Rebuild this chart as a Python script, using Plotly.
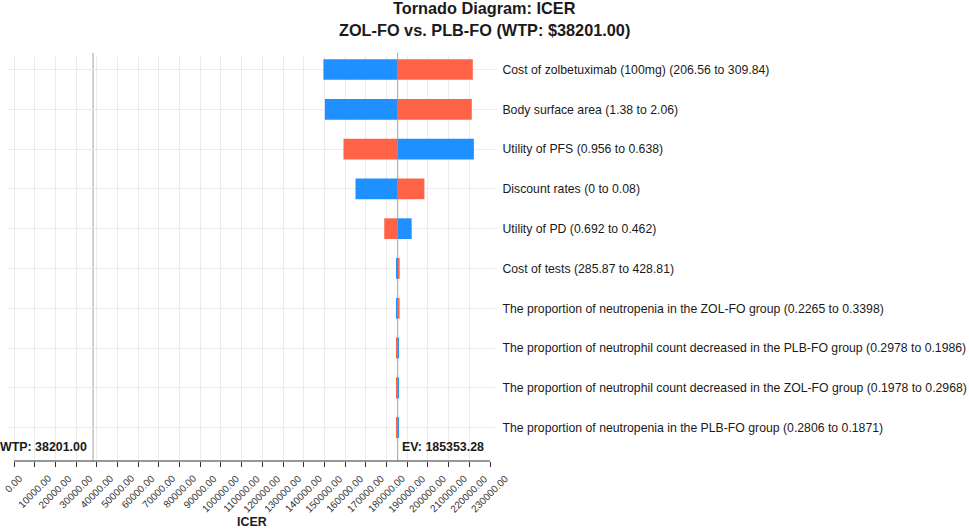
import plotly.graph_objects as go

# tornado diagram data
params = [
    "Cost of zolbetuximab (100mg) (206.56 to 309.84)",
    "Body surface area (1.38 to 2.06)",
    "Utility of PFS (0.956 to 0.638)",
    "Discount rates (0 to 0.08)",
    "Utility of PD (0.692 to 0.462)",
    "Cost of tests (285.87 to 428.81)",
    "The proportion of neutropenia in the ZOL-FO group (0.2265 to 0.3398)",
    "The proportion of neutrophil count decreased in the PLB-FO group (0.2978 to 0.1986)",
    "The proportion of neutrophil count decreased in the ZOL-FO group (0.1978 to 0.2968)",
    "The proportion of neutropenia in the PLB-FO group (0.2806 to 0.1871)",
]
icer_low = [149500, 150200, 222200, 165000, 192150, 184700, 184750, 185900, 185800, 185750]
icer_high = [221700, 221200, 159200, 198300, 178900, 186350, 186300, 184900, 184950, 185000]

ev = 185353.28
wtp = 38201.00

x_ticks = list(range(0, 230001, 10000))

FONT = "Liberation Sans"
TXT = "#1a1a1a"

fig = go.Figure()

fig.add_trace(go.Bar(
    y=params, x=[v - ev for v in icer_low], base=ev, orientation="h",
    marker=dict(color="#1E90FF", line=dict(width=0)), width=0.52,
    name="Low", showlegend=False,
))
fig.add_trace(go.Bar(
    y=params, x=[v - ev for v in icer_high], base=ev, orientation="h",
    marker=dict(color="#FF6347", line=dict(width=0)), width=0.52,
    name="High", showlegend=False,
))

# reference lines for WTP and expected value
for xv in (wtp, ev):
    fig.add_shape(type="line", xref="x", yref="paper", x0=xv, x1=xv, y0=0, y1=1.008,
                  line=dict(color="#b3b3b3", width=1.2), layer="below")

# x axis line only over the tick range
fig.add_shape(type="line", xref="x", yref="paper", x0=0, x1=230000, y0=0, y1=0,
              line=dict(color="#333333", width=1.2))

# rotated tick labels centred under each tick (ggplot style)
for t in x_ticks:
    fig.add_annotation(x=t, y=0, xref="x", yref="paper", text=f"{t:.2f}",
                       showarrow=False, textangle=-45, xanchor="center", yanchor="top",
                       yshift=-9, font=dict(family=FONT, size=10, color="#333333"))

fig.add_annotation(x=wtp, y=-0.5, xref="x", yref="y", text="<b>WTP: 38201.00</b>",
                   showarrow=False, xanchor="right", xshift=-4,
                   font=dict(family=FONT, size=12.4, color=TXT))
fig.add_annotation(x=ev, y=-0.5, xref="x", yref="y", text="<b>EV: 185353.28</b>",
                   showarrow=False, xanchor="left", xshift=2,
                   font=dict(family=FONT, size=12.4, color=TXT))
fig.add_annotation(x=115000, y=0, xref="x", yref="paper", text="<b>ICER</b>",
                   showarrow=False, yanchor="middle", yshift=-61,
                   font=dict(family=FONT, size=12.4, color=TXT))

# two-line title, centred on the page (paper x of the page centre)
title_x = (969 / 2 - 7) / (969 - 7 - 479)
fig.add_annotation(x=title_x, y=1, xref="paper", yref="paper", xanchor="center",
                   text="<b>Tornado Diagram: ICER</b>", showarrow=False,
                   yanchor="middle", yshift=48,
                   font=dict(family=FONT, size=16.3, color=TXT))
fig.add_annotation(x=title_x, y=1, xref="paper", yref="paper", xanchor="center",
                   text="<b>ZOL-FO vs. PLB-FO (WTP: $38201.00)</b>", showarrow=False,
                   yanchor="middle", yshift=26.5,
                   font=dict(family=FONT, size=16.3, color=TXT))

fig.update_layout(
    width=969, height=531,
    margin=dict(l=7, r=479, t=56, b=70, autoexpand=False),
    paper_bgcolor="white", plot_bgcolor="white",
    barmode="overlay",
    font=dict(family=FONT, color=TXT),
    xaxis=dict(
        range=[-3400, 230000], automargin=False,
        tickvals=x_ticks, showticklabels=False,
        ticks="outside", ticklen=5, tickcolor="#333333", tickwidth=1.2,
        showgrid=True, gridcolor="#ebebeb", gridwidth=1.2,
        showline=False, zeroline=False,
    ),
    yaxis=dict(
        categoryorder="array", categoryarray=params[::-1],
        range=[-0.84, 9.34], side="right", automargin=False,
        ticklabeloverflow="allow", ticklabelstandoff=3,
        ticks="outside", ticklen=6, tickcolor="#ebebeb", tickwidth=1.2,
        tickfont=dict(family=FONT, size=12.25, color=TXT),
        showgrid=True, gridcolor="#ebebeb", gridwidth=1.2,
        showline=False, zeroline=False,
    ),
)

# drop the default body margin so the figure sits at the page corner
fig.write_html("out.html", config={"displayModeBar": False},
               post_script="document.body.style.margin='0';")
